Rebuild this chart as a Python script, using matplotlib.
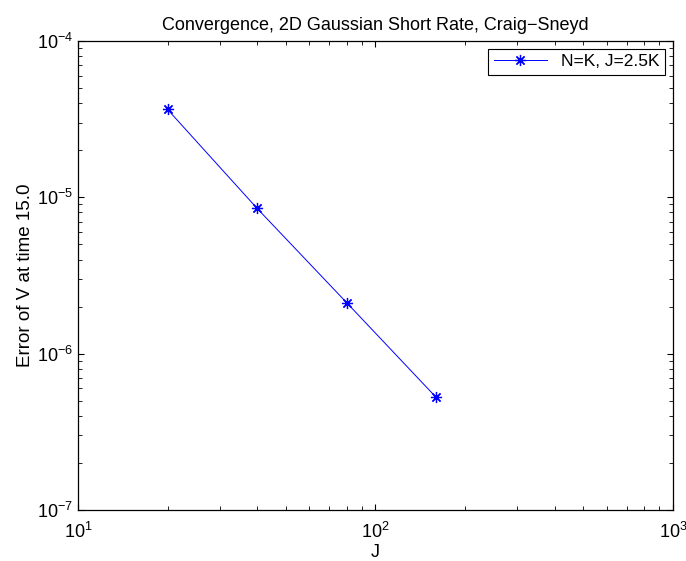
import numpy as np
import matplotlib
matplotlib.use("Agg")
import matplotlib.pyplot as plt
import matplotlib.ticker as mticker

# grid sizes and errors from the Craig-Sneyd convergence run
J_VALUES = [20, 40, 80, 160]
ERRORS = [3.65e-5, 8.5e-6, 2.12e-6, 5.25e-7]
SERIES_LABEL = "N=K, J=2.5K"

plt.rcParams.update({
    "font.family": ["Liberation Sans", "DejaVu Sans"],
    "font.size": 13,
    "mathtext.fontset": "custom",
    "mathtext.rm": "Liberation Sans",
    "mathtext.it": "Liberation Sans",
    "xtick.direction": "in",
    "ytick.direction": "in",
    "xtick.top": True,
    "ytick.right": True,
    "xtick.minor.visible": True,
    "ytick.minor.visible": True,
})

fig = plt.figure(figsize=(6.86, 5.61), dpi=100)
ax = fig.add_axes([0.1137, 0.0909, 0.8673, 0.836])

asterisk = (8, 2, 0)
ax.loglog(J_VALUES, ERRORS, color="#0000ff", linewidth=0.7,
          marker=asterisk, markersize=8, markeredgewidth=0.9,
          label=SERIES_LABEL)

ax.set_xlim(10, 1000)
ax.set_ylim(1e-7, 1e-4)
ax.xaxis.set_major_locator(mticker.LogLocator(base=10, numticks=10))
ax.yaxis.set_major_locator(mticker.LogLocator(base=10, numticks=10))
ax.tick_params(which="major", length=4.5, width=0.8, labelsize=13)
ax.tick_params(axis="x", which="major", pad=8.5)
ax.tick_params(axis="y", which="major", pad=3.5)
ax.tick_params(which="minor", length=3, width=0.6)
for s in ax.spines.values():
    s.set_linewidth(0.9)

ax.set_xlabel("J", fontsize=13, labelpad=1.5)
ax.set_ylabel("Error of V at time 15.0", fontsize=13.5, labelpad=2)
ax.set_title("Convergence, 2D Gaussian Short Rate, Craig\u2212Sneyd",
             fontsize=13, pad=8)

leg = ax.legend(loc="upper right", fancybox=False, framealpha=1,
                edgecolor="black", borderaxespad=0.46, handlelength=3.1,
                borderpad=0.3, fontsize=12.5)
leg.get_frame().set_linewidth(0.8)

fig.savefig("out.png", dpi=100, facecolor="white")
